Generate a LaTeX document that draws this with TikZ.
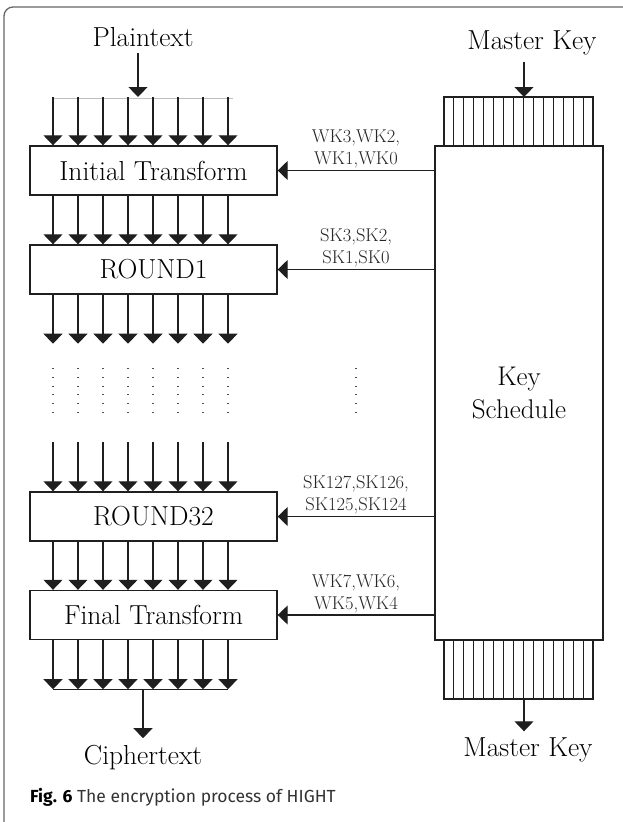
\documentclass[tikz,border=0pt]{standalone}
\usepackage{fontspec}
\newfontfamily\capfont{Fira Sans}
\usetikzlibrary{arrows.meta}
\newcommand{\boxfont}{\fontsize{27.5}{31}\selectfont}
\newcommand{\keyfont}{\fontsize{18.5}{22}\selectfont}
\tikzset{
  blk/.style={draw=black!88, line width=1.4pt, minimum width=247pt, minimum height=49pt, inner sep=0pt, font=\boxfont},
  wire/.style={line width=1.2pt, draw=black!88},
  tri/.style={-{Triangle[width=19pt,length=10pt]}},
  klabel/.style={font=\keyfont, align=center, inner sep=1.5pt, text=black!85},
  dots/.style={line width=1.2pt, draw=black!70, dash pattern=on 1pt off 7.8pt}
}
\begin{document}
\begin{tikzpicture}[x=1pt, y=-1pt]
\useasboundingbox (0,0) rectangle (623,822);
\draw[black!60, line width=1.3pt, rounded corners=9pt] (4,822) -- (4,7) -- (623,7);

\node[blk] (init) at (153.5,170.5) {Initial Transform};
\node[blk] (rnd1) at (153.5,269.5) {ROUND1};
\node[blk] (rnd32) at (153.5,516.5) {ROUND32};
\node[blk] (fin) at (153.5,615) {Final Transform};
\node[draw=black!88, line width=1.4pt, minimum width=168pt, minimum height=494pt,
  font=\fontsize{27}{33}\selectfont, align=center] (ks) at (519,393) {Key\\Schedule};

\node[font=\boxfont] (plain) at (143,37) {Plaintext};
\node[font=\boxfont] (mkin) at (532,43) {Master Key};
\node[font=\boxfont] (ciph) at (143,758) {Ciphertext};
\node[font=\boxfont] (mkout) at (528,750) {Master Key};

\coordinate (ptin) at (138,97);
\coordinate (ctout) at (143,689);
\coordinate (mktop) at (524,97);
\coordinate (mkbot) at (524,699);

\draw[wire,tri,shorten <=3pt] (plain.south -| ptin) -- (ptin);
\draw[black!25, line width=0.8pt] (53,98) -- (233,98);
\foreach \x in {53,78,...,228} {
  \coordinate (b) at (\x,97);
  \draw[wire,tri] (b) -- (b |- init.north);
  \draw[wire,tri] (b |- init.south) -- (b |- rnd1.north);
  \draw[wire,tri] (b |- rnd1.south) -- ++(0,49);
  \draw[dots] (\x,368) -- (\x,413);
  \draw[wire,tri] (\x,442) -- (b |- rnd32.north);
  \draw[wire,tri] (b |- rnd32.south) -- (b |- fin.north);
  \draw[wire,tri] (b |- fin.south) -- ++(0,49);
}
\draw[dots] (356,368) -- (356,413);
\draw[wire, line width=0.9pt] (53,689) -- (228,689);
\draw[wire,tri,shorten >=4pt] (ctout) -- (ciph.north);

\draw[wire,tri] (ks.west |- init.east) -- node[klabel, above] {WK3,WK2,\\WK1,WK0} (init.east);
\draw[wire,tri] (ks.west |- rnd1.east) -- node[klabel, above] {SK3,SK2,\\SK1,SK0} (rnd1.east);
\draw[wire,tri] (ks.west |- rnd32.east) -- node[klabel, above] {SK127,SK126,\\SK125,SK124} (rnd32.east);
\draw[wire,tri] (ks.west |- fin.east) -- node[klabel, above] {WK7,WK6,\\WK5,WK4} (fin.east);

\draw[wire] (444,146) |- (593,97) -- (593,146);
\draw[wire] (444,640) |- (593,699) -- (593,640);
\foreach \i in {1,...,14} {
  \draw[wire, line width=1pt] (444+9.93*\i,97) -- ++(0,49);
  \draw[wire, line width=1pt] (444+9.93*\i,640) -- ++(0,59);
}
\draw[wire,tri,shorten <=3pt] (mkin.south -| mktop) -- (mktop);
\draw[wire,tri,shorten >=3pt] (mkbot) -- (mkout.north -| mkbot);

\node[anchor=west, inner sep=0pt, font=\capfont\fontsize{17.5}{20}\selectfont] (cap) at (30,797)
  {\textbf{Fig. 6} \textcolor{black!80}{The encryption process of HIGHT}};
\end{tikzpicture}
\end{document}
